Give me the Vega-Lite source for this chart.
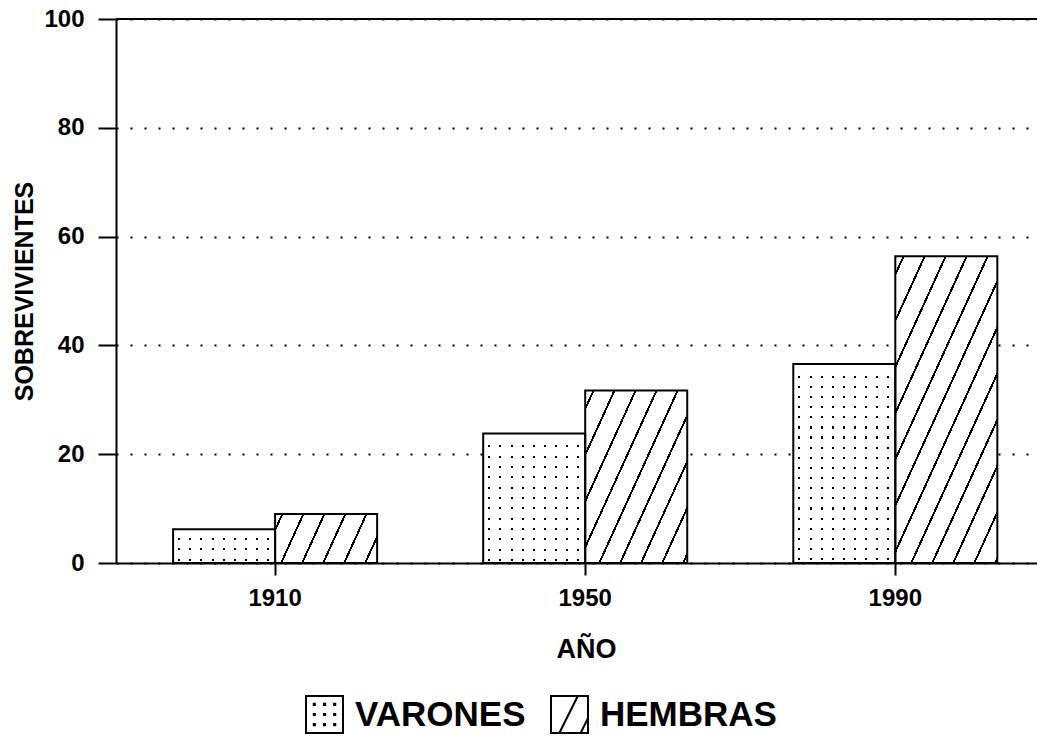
{
  "$schema": "https://vega.github.io/schema/vega-lite/v6.json",
  "width": 921,
  "height": 544,
  "autosize": {"type": "none"},
  "padding": {"left": 116, "top": 19, "right": 0, "bottom": 177},
  "background": "white",
  "config": {"view": {"stroke": null}, "font": "Liberation Sans"},
  "data": {
    "values": [
      {"year": "1910", "sexo": "VARONES", "valor": 6.2},
      {"year": "1910", "sexo": "HEMBRAS", "valor": 9.0},
      {"year": "1950", "sexo": "VARONES", "valor": 23.8},
      {"year": "1950", "sexo": "HEMBRAS", "valor": 31.7},
      {"year": "1990", "sexo": "VARONES", "valor": 36.6},
      {"year": "1990", "sexo": "HEMBRAS", "valor": 56.4}
    ]
  },
  "layer": [
    {
      "mark": {"type": "bar", "strokeWidth": 0},
      "encoding": {
        "x": {
          "field": "year", "type": "nominal", "title": "AÑO",
          "scale": {"paddingInner": 0.342, "paddingOuter": 0.156, "align": 0.59},
          "axis": {
            "domainColor": "black", "domainWidth": 2,
            "tickColor": "black", "tickWidth": 2, "tickSize": 12,
            "labelFont": "Liberation Sans", "labelFontSize": 24, "labelFontWeight": "bold", "labelColor": "black",
            "labelPadding": 11, "labelAngle": 0, "grid": false,
            "titleFont": "Liberation Sans", "titleFontSize": 27, "titleFontWeight": "bold", "titleColor": "black",
            "titleX": 470, "titleY": 94, "titleBaseline": "alphabetic", "titleAlign": "center"
          }
        },
        "xOffset": {"field": "sexo", "type": "nominal", "scale": {"domain": ["VARONES", "HEMBRAS"], "paddingInner": 0, "paddingOuter": 0}},
        "y": {
          "field": "valor", "type": "quantitative", "title": "SOBREVIVIENTES",
          "scale": {"domain": [0, 100], "nice": false},
          "axis": {
            "values": [0, 20, 40, 60, 80, 100],
            "domainColor": "black", "domainWidth": 2,
            "tickColor": "black", "tickWidth": 2, "tickSize": 18,
            "labelFont": "Liberation Sans", "labelFontSize": 24, "labelFontWeight": "bold", "labelColor": "black",
            "labelPadding": 14,
            "grid": true, "gridColor": "black", "gridWidth": 2, "gridDash": [2, 12], "gridOpacity": 1,
            "titleFont": "Liberation Sans", "titleFontSize": 25, "titleFontWeight": "bold", "titleColor": "black",
            "titleAngle": 270, "titleX": -92, "titleY": 272, "titleBaseline": "middle", "titleAlign": "center"
          }
        },
        "fill": {
          "condition": [
            {"test": "datum.sexo === 'VARONES'", "value": {
              "gradient": "linear", "x1": 0, "y1": 0, "x2": 1, "y2": 0,
              "stops": [
                {"offset": 0, "color": "#ffffff"},
                {"offset": 0.05, "color": "#ffffff"}, {"offset": 0.05, "color": "#000000"}, {"offset": 0.07, "color": "#000000"}, {"offset": 0.07, "color": "#ffffff"},
                {"offset": 0.159, "color": "#ffffff"}, {"offset": 0.159, "color": "#000000"}, {"offset": 0.179, "color": "#000000"}, {"offset": 0.179, "color": "#ffffff"},
                {"offset": 0.268, "color": "#ffffff"}, {"offset": 0.268, "color": "#000000"}, {"offset": 0.288, "color": "#000000"}, {"offset": 0.288, "color": "#ffffff"},
                {"offset": 0.377, "color": "#ffffff"}, {"offset": 0.377, "color": "#000000"}, {"offset": 0.397, "color": "#000000"}, {"offset": 0.397, "color": "#ffffff"},
                {"offset": 0.486, "color": "#ffffff"}, {"offset": 0.486, "color": "#000000"}, {"offset": 0.506, "color": "#000000"}, {"offset": 0.506, "color": "#ffffff"},
                {"offset": 0.595, "color": "#ffffff"}, {"offset": 0.595, "color": "#000000"}, {"offset": 0.615, "color": "#000000"}, {"offset": 0.615, "color": "#ffffff"},
                {"offset": 0.704, "color": "#ffffff"}, {"offset": 0.704, "color": "#000000"}, {"offset": 0.724, "color": "#000000"}, {"offset": 0.724, "color": "#ffffff"},
                {"offset": 0.813, "color": "#ffffff"}, {"offset": 0.813, "color": "#000000"}, {"offset": 0.833, "color": "#000000"}, {"offset": 0.833, "color": "#ffffff"},
                {"offset": 0.922, "color": "#ffffff"}, {"offset": 0.922, "color": "#000000"}, {"offset": 0.942, "color": "#000000"}, {"offset": 0.942, "color": "#ffffff"},
                {"offset": 1, "color": "#ffffff"}
              ]
            }},
            {"test": "datum.year === '1910'", "value": {
              "gradient": "linear", "x1": 0, "y1": 0, "x2": 1.163, "y2": 0.254,
              "stops": [
                {"offset": 0, "color": "#ffffff"},
                {"offset": 0.05, "color": "#ffffff"}, {"offset": 0.05, "color": "#000000"}, {"offset": 0.067, "color": "#000000"}, {"offset": 0.067, "color": "#ffffff"},
                {"offset": 0.219, "color": "#ffffff"}, {"offset": 0.219, "color": "#000000"}, {"offset": 0.236, "color": "#000000"}, {"offset": 0.236, "color": "#ffffff"},
                {"offset": 0.388, "color": "#ffffff"}, {"offset": 0.388, "color": "#000000"}, {"offset": 0.405, "color": "#000000"}, {"offset": 0.405, "color": "#ffffff"},
                {"offset": 0.557, "color": "#ffffff"}, {"offset": 0.557, "color": "#000000"}, {"offset": 0.574, "color": "#000000"}, {"offset": 0.574, "color": "#ffffff"},
                {"offset": 0.726, "color": "#ffffff"}, {"offset": 0.726, "color": "#000000"}, {"offset": 0.743, "color": "#000000"}, {"offset": 0.743, "color": "#ffffff"},
                {"offset": 0.895, "color": "#ffffff"}, {"offset": 0.895, "color": "#000000"}, {"offset": 0.912, "color": "#000000"}, {"offset": 0.912, "color": "#ffffff"},
                {"offset": 1, "color": "#ffffff"}
              ]
            }},
            {"test": "datum.year === '1950'", "value": {
              "gradient": "linear", "x1": 0, "y1": 0, "x2": 1.112, "y2": 0.855,
              "stops": [
                {"offset": 0, "color": "#ffffff"},
                {"offset": 0.04, "color": "#ffffff"}, {"offset": 0.04, "color": "#000000"}, {"offset": 0.052, "color": "#000000"}, {"offset": 0.052, "color": "#ffffff"},
                {"offset": 0.156, "color": "#ffffff"}, {"offset": 0.156, "color": "#000000"}, {"offset": 0.168, "color": "#000000"}, {"offset": 0.168, "color": "#ffffff"},
                {"offset": 0.273, "color": "#ffffff"}, {"offset": 0.273, "color": "#000000"}, {"offset": 0.285, "color": "#000000"}, {"offset": 0.285, "color": "#ffffff"},
                {"offset": 0.389, "color": "#ffffff"}, {"offset": 0.389, "color": "#000000"}, {"offset": 0.401, "color": "#000000"}, {"offset": 0.401, "color": "#ffffff"},
                {"offset": 0.506, "color": "#ffffff"}, {"offset": 0.506, "color": "#000000"}, {"offset": 0.518, "color": "#000000"}, {"offset": 0.518, "color": "#ffffff"},
                {"offset": 0.622, "color": "#ffffff"}, {"offset": 0.622, "color": "#000000"}, {"offset": 0.634, "color": "#000000"}, {"offset": 0.634, "color": "#ffffff"},
                {"offset": 0.738, "color": "#ffffff"}, {"offset": 0.738, "color": "#000000"}, {"offset": 0.75, "color": "#000000"}, {"offset": 0.75, "color": "#ffffff"},
                {"offset": 0.855, "color": "#ffffff"}, {"offset": 0.855, "color": "#000000"}, {"offset": 0.867, "color": "#000000"}, {"offset": 0.867, "color": "#ffffff"},
                {"offset": 0.971, "color": "#ffffff"}, {"offset": 0.971, "color": "#000000"}, {"offset": 0.983, "color": "#000000"}, {"offset": 0.983, "color": "#ffffff"},
                {"offset": 1, "color": "#ffffff"}
              ]
            }},
            {"test": "datum.year === '1990'", "value": {
              "gradient": "linear", "x1": 0, "y1": 0, "x2": 0.825, "y2": 1.128,
              "stops": [
                {"offset": 0, "color": "#ffffff"},
                {"offset": 0.03, "color": "#ffffff"}, {"offset": 0.03, "color": "#000000"}, {"offset": 0.039, "color": "#000000"}, {"offset": 0.039, "color": "#ffffff"},
                {"offset": 0.117, "color": "#ffffff"}, {"offset": 0.117, "color": "#000000"}, {"offset": 0.126, "color": "#000000"}, {"offset": 0.126, "color": "#ffffff"},
                {"offset": 0.204, "color": "#ffffff"}, {"offset": 0.204, "color": "#000000"}, {"offset": 0.213, "color": "#000000"}, {"offset": 0.213, "color": "#ffffff"},
                {"offset": 0.291, "color": "#ffffff"}, {"offset": 0.291, "color": "#000000"}, {"offset": 0.3, "color": "#000000"}, {"offset": 0.3, "color": "#ffffff"},
                {"offset": 0.378, "color": "#ffffff"}, {"offset": 0.378, "color": "#000000"}, {"offset": 0.387, "color": "#000000"}, {"offset": 0.387, "color": "#ffffff"},
                {"offset": 0.465, "color": "#ffffff"}, {"offset": 0.465, "color": "#000000"}, {"offset": 0.474, "color": "#000000"}, {"offset": 0.474, "color": "#ffffff"},
                {"offset": 0.552, "color": "#ffffff"}, {"offset": 0.552, "color": "#000000"}, {"offset": 0.561, "color": "#000000"}, {"offset": 0.561, "color": "#ffffff"},
                {"offset": 0.639, "color": "#ffffff"}, {"offset": 0.639, "color": "#000000"}, {"offset": 0.648, "color": "#000000"}, {"offset": 0.648, "color": "#ffffff"},
                {"offset": 0.726, "color": "#ffffff"}, {"offset": 0.726, "color": "#000000"}, {"offset": 0.735, "color": "#000000"}, {"offset": 0.735, "color": "#ffffff"},
                {"offset": 0.813, "color": "#ffffff"}, {"offset": 0.813, "color": "#000000"}, {"offset": 0.822, "color": "#000000"}, {"offset": 0.822, "color": "#ffffff"},
                {"offset": 0.9, "color": "#ffffff"}, {"offset": 0.9, "color": "#000000"}, {"offset": 0.909, "color": "#000000"}, {"offset": 0.909, "color": "#ffffff"},
                {"offset": 0.987, "color": "#ffffff"}, {"offset": 0.987, "color": "#000000"}, {"offset": 0.996, "color": "#000000"}, {"offset": 0.996, "color": "#ffffff"},
                {"offset": 1, "color": "#ffffff"}
              ]
            }}
          ],
          "field": "sexo", "type": "nominal",
          "scale": {"domain": ["VARONES", "HEMBRAS"], "range": ["#ffffff", "#ffffff"]},
          "legend": {
            "orient": "none", "legendX": 189, "legendY": 676, "direction": "horizontal", "title": null,
            "padding": 0, "symbolSize": 1369, "symbolStrokeWidth": 2, "symbolStrokeColor": "black",
            "labelFont": "Liberation Sans", "labelFontSize": 35, "labelFontWeight": "bold", "labelColor": "black",
            "labelLimit": 0, "labelOffset": 11, "columnPadding": 21,
            "encode": {
              "symbols": {
                "update": {
                  "shape": [
                    {"test": "datum.value === 'VARONES'", "value": "M-1,-1H1V1H-1Z M-0.58,-0.58h0.06v0.06h-0.06Z M-0.03,-0.58h0.06v0.06h-0.06Z M0.52,-0.58h0.06v0.06h-0.06Z M-0.58,-0.03h0.06v0.06h-0.06Z M-0.03,-0.03h0.06v0.06h-0.06Z M0.52,-0.03h0.06v0.06h-0.06Z M-0.58,0.52h0.06v0.06h-0.06Z M-0.03,0.52h0.06v0.06h-0.06Z M0.52,0.52h0.06v0.06h-0.06Z"},
                    {"value": "M-1,-1H1V1H-1Z M-0.55,1L0.45,-1 M0.6,1L1,0.2"}
                  ],
                  "fill": {"value": "transparent"},
                  "stroke": {"value": "black"},
                  "strokeWidth": {"value": 2},
                  "opacity": {"value": 1}
                }
              }
            }
          }
        }
      }
    },
    {
      "mark": {"type": "bar", "stroke": "black", "strokeWidth": 2},
      "encoding": {
        "x": {"field": "year", "type": "nominal"},
        "xOffset": {"field": "sexo", "type": "nominal"},
        "y": {"field": "valor", "type": "quantitative"},
        "fill": {
          "condition": [
            {"test": "datum.sexo === 'VARONES' && datum.year === '1910'", "value": {
              "gradient": "linear", "x1": 0, "y1": 0, "x2": 0, "y2": 1,
              "stops": [
                {"offset": 0, "color": "#ffffff"},
                {"offset": 0.26, "color": "#ffffff"}, {"offset": 0.26, "color": "rgba(255,255,255,0)"}, {"offset": 0.32, "color": "rgba(255,255,255,0)"}, {"offset": 0.32, "color": "#ffffff"},
                {"offset": 0.56, "color": "#ffffff"}, {"offset": 0.56, "color": "rgba(255,255,255,0)"}, {"offset": 0.62, "color": "rgba(255,255,255,0)"}, {"offset": 0.62, "color": "#ffffff"},
                {"offset": 0.87, "color": "#ffffff"}, {"offset": 0.87, "color": "rgba(255,255,255,0)"}, {"offset": 0.93, "color": "rgba(255,255,255,0)"}, {"offset": 0.93, "color": "#ffffff"},
                {"offset": 1, "color": "#ffffff"}
              ]
            }},
            {"test": "datum.sexo === 'VARONES' && datum.year === '1950'", "value": {
              "gradient": "linear", "x1": 0, "y1": 0, "x2": 0, "y2": 1,
              "stops": [
                {"offset": 0, "color": "#ffffff"},
                {"offset": 0.09, "color": "#ffffff"}, {"offset": 0.09, "color": "rgba(255,255,255,0)"}, {"offset": 0.106, "color": "rgba(255,255,255,0)"}, {"offset": 0.106, "color": "#ffffff"},
                {"offset": 0.17, "color": "#ffffff"}, {"offset": 0.17, "color": "rgba(255,255,255,0)"}, {"offset": 0.186, "color": "rgba(255,255,255,0)"}, {"offset": 0.186, "color": "#ffffff"},
                {"offset": 0.25, "color": "#ffffff"}, {"offset": 0.25, "color": "rgba(255,255,255,0)"}, {"offset": 0.266, "color": "rgba(255,255,255,0)"}, {"offset": 0.266, "color": "#ffffff"},
                {"offset": 0.33, "color": "#ffffff"}, {"offset": 0.33, "color": "rgba(255,255,255,0)"}, {"offset": 0.346, "color": "rgba(255,255,255,0)"}, {"offset": 0.346, "color": "#ffffff"},
                {"offset": 0.41, "color": "#ffffff"}, {"offset": 0.41, "color": "rgba(255,255,255,0)"}, {"offset": 0.426, "color": "rgba(255,255,255,0)"}, {"offset": 0.426, "color": "#ffffff"},
                {"offset": 0.49, "color": "#ffffff"}, {"offset": 0.49, "color": "rgba(255,255,255,0)"}, {"offset": 0.506, "color": "rgba(255,255,255,0)"}, {"offset": 0.506, "color": "#ffffff"},
                {"offset": 0.57, "color": "#ffffff"}, {"offset": 0.57, "color": "rgba(255,255,255,0)"}, {"offset": 0.586, "color": "rgba(255,255,255,0)"}, {"offset": 0.586, "color": "#ffffff"},
                {"offset": 0.65, "color": "#ffffff"}, {"offset": 0.65, "color": "rgba(255,255,255,0)"}, {"offset": 0.666, "color": "rgba(255,255,255,0)"}, {"offset": 0.666, "color": "#ffffff"},
                {"offset": 0.73, "color": "#ffffff"}, {"offset": 0.73, "color": "rgba(255,255,255,0)"}, {"offset": 0.746, "color": "rgba(255,255,255,0)"}, {"offset": 0.746, "color": "#ffffff"},
                {"offset": 0.81, "color": "#ffffff"}, {"offset": 0.81, "color": "rgba(255,255,255,0)"}, {"offset": 0.826, "color": "rgba(255,255,255,0)"}, {"offset": 0.826, "color": "#ffffff"},
                {"offset": 0.89, "color": "#ffffff"}, {"offset": 0.89, "color": "rgba(255,255,255,0)"}, {"offset": 0.906, "color": "rgba(255,255,255,0)"}, {"offset": 0.906, "color": "#ffffff"},
                {"offset": 0.97, "color": "#ffffff"}, {"offset": 0.97, "color": "rgba(255,255,255,0)"}, {"offset": 0.986, "color": "rgba(255,255,255,0)"}, {"offset": 0.986, "color": "#ffffff"},
                {"offset": 1, "color": "#ffffff"}
              ]
            }},
            {"test": "datum.sexo === 'VARONES' && datum.year === '1990'", "value": {
              "gradient": "linear", "x1": 0, "y1": 0, "x2": 0, "y2": 1,
              "stops": [
                {"offset": 0, "color": "#ffffff"},
                {"offset": 0.059, "color": "#ffffff"}, {"offset": 0.059, "color": "rgba(255,255,255,0)"}, {"offset": 0.07, "color": "rgba(255,255,255,0)"}, {"offset": 0.07, "color": "#ffffff"},
                {"offset": 0.11, "color": "#ffffff"}, {"offset": 0.11, "color": "rgba(255,255,255,0)"}, {"offset": 0.121, "color": "rgba(255,255,255,0)"}, {"offset": 0.121, "color": "#ffffff"},
                {"offset": 0.161, "color": "#ffffff"}, {"offset": 0.161, "color": "rgba(255,255,255,0)"}, {"offset": 0.172, "color": "rgba(255,255,255,0)"}, {"offset": 0.172, "color": "#ffffff"},
                {"offset": 0.212, "color": "#ffffff"}, {"offset": 0.212, "color": "rgba(255,255,255,0)"}, {"offset": 0.223, "color": "rgba(255,255,255,0)"}, {"offset": 0.223, "color": "#ffffff"},
                {"offset": 0.263, "color": "#ffffff"}, {"offset": 0.263, "color": "rgba(255,255,255,0)"}, {"offset": 0.274, "color": "rgba(255,255,255,0)"}, {"offset": 0.274, "color": "#ffffff"},
                {"offset": 0.314, "color": "#ffffff"}, {"offset": 0.314, "color": "rgba(255,255,255,0)"}, {"offset": 0.325, "color": "rgba(255,255,255,0)"}, {"offset": 0.325, "color": "#ffffff"},
                {"offset": 0.364, "color": "#ffffff"}, {"offset": 0.364, "color": "rgba(255,255,255,0)"}, {"offset": 0.375, "color": "rgba(255,255,255,0)"}, {"offset": 0.375, "color": "#ffffff"},
                {"offset": 0.415, "color": "#ffffff"}, {"offset": 0.415, "color": "rgba(255,255,255,0)"}, {"offset": 0.426, "color": "rgba(255,255,255,0)"}, {"offset": 0.426, "color": "#ffffff"},
                {"offset": 0.466, "color": "#ffffff"}, {"offset": 0.466, "color": "rgba(255,255,255,0)"}, {"offset": 0.477, "color": "rgba(255,255,255,0)"}, {"offset": 0.477, "color": "#ffffff"},
                {"offset": 0.517, "color": "#ffffff"}, {"offset": 0.517, "color": "rgba(255,255,255,0)"}, {"offset": 0.528, "color": "rgba(255,255,255,0)"}, {"offset": 0.528, "color": "#ffffff"},
                {"offset": 0.568, "color": "#ffffff"}, {"offset": 0.568, "color": "rgba(255,255,255,0)"}, {"offset": 0.579, "color": "rgba(255,255,255,0)"}, {"offset": 0.579, "color": "#ffffff"},
                {"offset": 0.619, "color": "#ffffff"}, {"offset": 0.619, "color": "rgba(255,255,255,0)"}, {"offset": 0.63, "color": "rgba(255,255,255,0)"}, {"offset": 0.63, "color": "#ffffff"},
                {"offset": 0.67, "color": "#ffffff"}, {"offset": 0.67, "color": "rgba(255,255,255,0)"}, {"offset": 0.681, "color": "rgba(255,255,255,0)"}, {"offset": 0.681, "color": "#ffffff"},
                {"offset": 0.721, "color": "#ffffff"}, {"offset": 0.721, "color": "rgba(255,255,255,0)"}, {"offset": 0.732, "color": "rgba(255,255,255,0)"}, {"offset": 0.732, "color": "#ffffff"},
                {"offset": 0.772, "color": "#ffffff"}, {"offset": 0.772, "color": "rgba(255,255,255,0)"}, {"offset": 0.783, "color": "rgba(255,255,255,0)"}, {"offset": 0.783, "color": "#ffffff"},
                {"offset": 0.823, "color": "#ffffff"}, {"offset": 0.823, "color": "rgba(255,255,255,0)"}, {"offset": 0.834, "color": "rgba(255,255,255,0)"}, {"offset": 0.834, "color": "#ffffff"},
                {"offset": 0.873, "color": "#ffffff"}, {"offset": 0.873, "color": "rgba(255,255,255,0)"}, {"offset": 0.884, "color": "rgba(255,255,255,0)"}, {"offset": 0.884, "color": "#ffffff"},
                {"offset": 0.924, "color": "#ffffff"}, {"offset": 0.924, "color": "rgba(255,255,255,0)"}, {"offset": 0.935, "color": "rgba(255,255,255,0)"}, {"offset": 0.935, "color": "#ffffff"},
                {"offset": 0.975, "color": "#ffffff"}, {"offset": 0.975, "color": "rgba(255,255,255,0)"}, {"offset": 0.986, "color": "rgba(255,255,255,0)"}, {"offset": 0.986, "color": "#ffffff"},
                {"offset": 1, "color": "#ffffff"}
              ]
            }}
          ],
          "value": "transparent"
        }
      }
    },
    {
      "mark": {"type": "rule", "color": "black", "strokeWidth": 2},
      "encoding": {"y": {"datum": 100}}
    }
  ]
}
